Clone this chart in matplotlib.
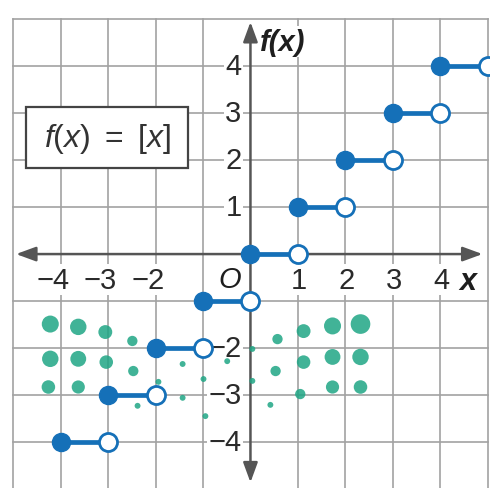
import matplotlib
matplotlib.use("Agg")
import matplotlib.pyplot as plt
from matplotlib.patches import Rectangle, FancyArrowPatch

plt.rcParams['font.family'] = ['Liberation Sans', 'DejaVu Sans']
plt.rcParams['mathtext.fontset'] = 'custom'
plt.rcParams['mathtext.rm'] = 'Liberation Sans'
plt.rcParams['mathtext.it'] = 'Liberation Sans:italic'

# --- greatest integer function f(x) = [x] ---
step_left = [-4, -3, -2, -1, 0, 1, 2, 3, 4]     # closed dot
step_right = [-3, -2, -1, 0, 1, 2, 3, 4, 5]     # open dot
step_value = [-4, -3, -2, -1, 0, 1, 2, 3, 4]

x_ticks = [-4, -3, -2, 1, 2, 3, 4]
x_tick_labels = ["\u22124", "\u22123", "\u22122", "1", "2", "3", "4"]
y_ticks = [4, 3, 2, 1, -2, -3, -4]
y_tick_labels = ["4", "3", "2", "1", "\u22122", "\u22123", "\u22124"]

grid_vals = [-5, -4, -3, -2, -1, 1, 2, 3, 4, 5]

# --- watermark dots (x, y, size) ---
wm_x = [-4.22, -3.63, -3.06, -2.49, 0.57, 1.12, 1.73, 2.32,
        -4.22, -3.63, -3.04, -2.47, 0.53, 1.12, 1.73, 2.32,
        -4.26, -3.63, 1.05, 1.73, 2.32,
        -1.43, -0.49, 0.04, -2.38, -1.43, -0.99, -0.95, 0.04, 0.42, -1.94]
wm_y = [-1.49, -1.55, -1.66, -1.85, -1.81, -1.64, -1.53, -1.49,
        -2.23, -2.23, -2.30, -2.49, -2.49, -2.30, -2.19, -2.19,
        -2.83, -2.83, -2.98, -2.83, -2.83,
        -2.34, -2.28, -2.02, -3.23, -3.06, -2.66, -3.45, -2.70, -3.21, -2.72]
wm_s = [150, 140, 100, 55, 55, 100, 150, 200,
        140, 130, 95, 55, 55, 95, 130, 140,
        95, 90, 55, 90, 95,
        18, 18, 18, 18, 18, 18, 18, 18, 18, 18]

blue = "#1570b8"
grid_c = "#a2a2a2"
axis_c = "#555555"
text_c = "#2a2a2a"

fig = plt.figure(figsize=(4.9, 4.89), dpi=100)
ax = fig.add_axes([0, 0, 1, 1])
ax.set_xlim(-5.28, 5.05)
ax.set_ylim(-4.98, 5.43)
ax.axis("off")

# grid
for g in grid_vals:
    ax.plot([g, g], [-5.2, 5], color=grid_c, lw=1.2, zorder=1)
    ax.plot([-5, 5], [g, g], color=grid_c, lw=1.2, zorder=1)

# axes with arrows
ax.add_patch(FancyArrowPatch((-5.0, 0), (4.95, 0), arrowstyle="<|-|>,head_length=0.6,head_width=0.22",
                             mutation_scale=20, color=axis_c, lw=1.8, zorder=3))
ax.add_patch(FancyArrowPatch((0, -4.92), (0, 5.0), arrowstyle="<|-|>,head_length=0.6,head_width=0.22",
                             mutation_scale=20, color=axis_c, lw=1.8, zorder=3))

lab_bbox = dict(fc="white", ec="none", pad=1.0)
for v, t in zip(x_ticks, x_tick_labels):
    ax.text(v + 0.19, -0.55, t, ha="right", va="center", fontsize=21, color=text_c,
            bbox=lab_bbox, zorder=2)
for v, t in zip(y_ticks, y_tick_labels):
    ax.text(-0.19, v, t, ha="right", va="center", fontsize=21, color=text_c,
            bbox=lab_bbox, zorder=2)
ax.text(-0.44, -0.53, "O", ha="center", va="center", fontsize=21, style="italic",
        color="#1e1e1e", bbox=lab_bbox, zorder=2)
ax.text(4.58, -0.57, "x", ha="center", va="center", fontsize=22, style="italic",
        weight="bold", color="#1e1e1e", zorder=2)
ax.text(0.2, 4.52, "f(x)", ha="left", va="center", fontsize=21, style="italic",
        weight="bold", color="#1e1e1e", bbox=lab_bbox, zorder=2)

# equation box
ax.add_patch(Rectangle((-4.73, 1.83), 3.42, 1.30, fc="white", ec="#444444", lw=1.6, zorder=4))
ax.text(-3.02, 2.47, r"$f(x)\ =\ [x]$", ha="center", va="center", fontsize=23,
        color="#333333", zorder=5)

# steps
for a, b, v in zip(step_left, step_right, step_value):
    ax.plot([a, b], [v, v], color=blue, lw=3.4, solid_capstyle="butt", zorder=6)
ax.plot(step_left, step_value, "o", ms=13, color=blue, zorder=7)
ax.plot(step_right, step_value, "o", ms=13, mfc="white", mec=blue, mew=2.0, zorder=7)

# watermark
ax.scatter(wm_x, wm_y, s=wm_s, color="#1fa685", alpha=0.85, edgecolors="none", zorder=8)

fig.savefig("out.png", dpi=100)
